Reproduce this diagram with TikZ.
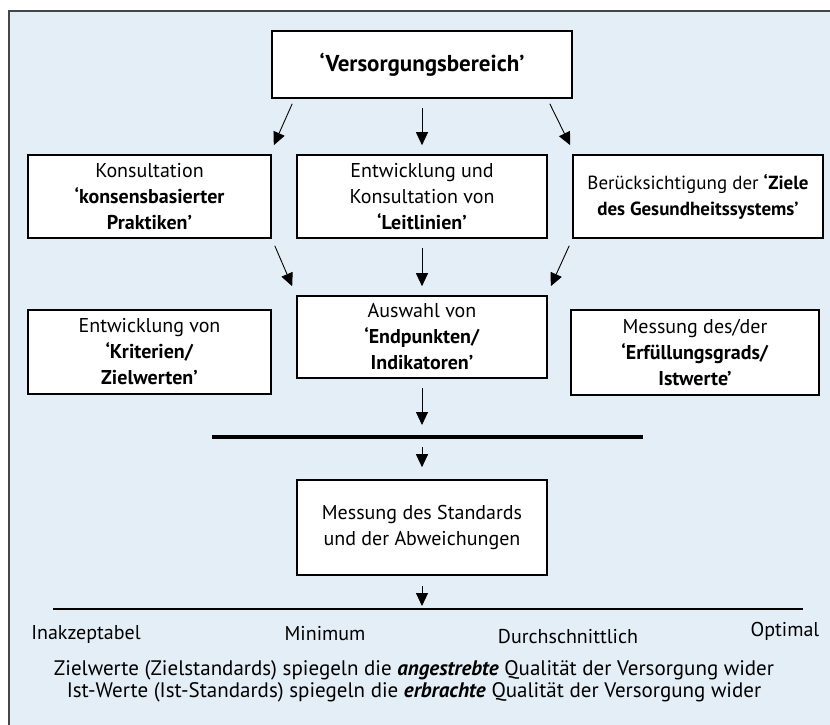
\documentclass[tikz,border=0pt]{standalone}
\usepackage{fontspec}
\setmainfont{PT Sans}
\usetikzlibrary{arrows.meta, positioning}
\definecolor{panelblue}{RGB}{227,238,246}
\definecolor{framegray}{RGB}{70,70,70}

\begin{document}
\begin{tikzpicture}[x=1pt, y=-1pt,
  box/.style={draw, fill=white, line width=1.6pt, align=center, inner sep=0pt, font=\fontsize{20}{26}\selectfont},
  arr/.style={-{Triangle[length=13pt, width=12pt]}, line width=0.9pt},
  lbl/.style={font=\fontsize{20}{22}\selectfont}]
  \useasboundingbox (0,0) rectangle (830,724);
  \fill[panelblue] (9,11) rectangle (850,750);
  \draw[framegray, line width=1.2pt] (9,750) -- (9,11) -- (850,11);

  \node[box, minimum width=300pt, minimum height=67pt, font=\fontsize{23}{26}\selectfont] (vb) at (422,64.5) {\textbf{‘Versorgungsbereich’}};

  \node[box, minimum width=243pt, minimum height=83pt] (kons) at (149.5,196.5) {Konsultation\\\textbf{‘konsensbasierter}\\\textbf{Praktiken’}};
  \node[box, minimum width=250pt, minimum height=83pt] (leit) at (422,196.5) {Entwicklung und\\Konsultation von\\\textbf{‘Leitlinien’}};
  \node[box, minimum width=250pt, minimum height=83pt, font=\fontsize{19}{26}\selectfont] (ziele) at (698,196.5) {Berücksichtigung der \textbf{‘Ziele}\\\textbf{des Gesundheitssystems’}};

  \node[box, minimum width=243pt, minimum height=84pt] (krit) at (149.5,352) {Entwicklung von\\\textbf{‘Kriterien/}\\\textbf{Zielwerten’}};
  \node[box, minimum width=250pt, minimum height=82pt] (ausw) at (422,337) {Auswahl von\\\textbf{‘Endpunkten/}\\\textbf{Indikatoren’}};
  \node[box, minimum width=248pt, minimum height=85pt] (erf) at (695,352.5) {Messung des/der\\\textbf{‘Erfüllungsgrads/}\\\textbf{Istwerte’}};

  % thick bar
  \coordinate (bar-l) at (212,437);
  \coordinate (bar-r) at (643,437);
  \coordinate (barmid) at (422,437);
  \draw[line width=4pt] (bar-l) -- (bar-r);

  \node[box, minimum width=250pt, minimum height=95pt] (mess) at (422,527.5) {Messung des Standards\\und der Abweichungen};

  % scale
  \coordinate (scale-l) at (53,609);
  \coordinate (scale-r) at (803,609);
  \coordinate (scalemid) at (422,609);
  \draw[line width=2.2pt] (scale-l) -- (scale-r);

  \node[lbl] (inak) at (86,634) {Inakzeptabel};
  \node[lbl] (mini) at (325,634) {Minimum};
  \node[lbl] (durch) at (568,637) {Durchschnittlich};
  \node[lbl] (opti) at (785,631) {Optimal};

  \node[lbl, align=center, font=\fontsize{21}{22}\selectfont] (note) at (414,681) {Zielwerte (Zielstandards) spiegeln die \textbf{\textit{angestrebte}} Qualität der Versorgung wider\\Ist-Werte (Ist-Standards) spiegeln die \textbf{\textit{erbrachte}} Qualität der Versorgung wider};

  % arrows
  \draw[arr] ([xshift=21pt, yshift=-5pt]vb.south west) -- ([xshift=2pt, yshift=9pt]kons.north east);
  \draw[arr] ([yshift=-9pt]vb.south) -- ([yshift=9pt]leit.north);
  \draw[arr] ([xshift=-23pt, yshift=-5pt]vb.south east) -- ([xshift=-2pt, yshift=9pt]ziele.north west);

  \draw[arr] ([xshift=3pt, yshift=-7pt]kons.south east) -- ([xshift=-4pt, yshift=9pt]ausw.north west);
  \draw[arr] ([yshift=-9pt]leit.south) -- ([yshift=9pt]ausw.north);
  \draw[arr] ([xshift=-3pt, yshift=-7pt]ziele.south west) -- ([xshift=3pt, yshift=9pt]ausw.north east);

  \draw[arr] ([yshift=-9pt]ausw.south) -- ([yshift=12pt]barmid);
  \draw[arr] ([yshift=-10pt]barmid) -- ([yshift=12pt]mess.north);
  \draw[arr] ([yshift=-10pt]mess.south) -- ([yshift=3pt]scalemid);
\end{tikzpicture}
\end{document}
